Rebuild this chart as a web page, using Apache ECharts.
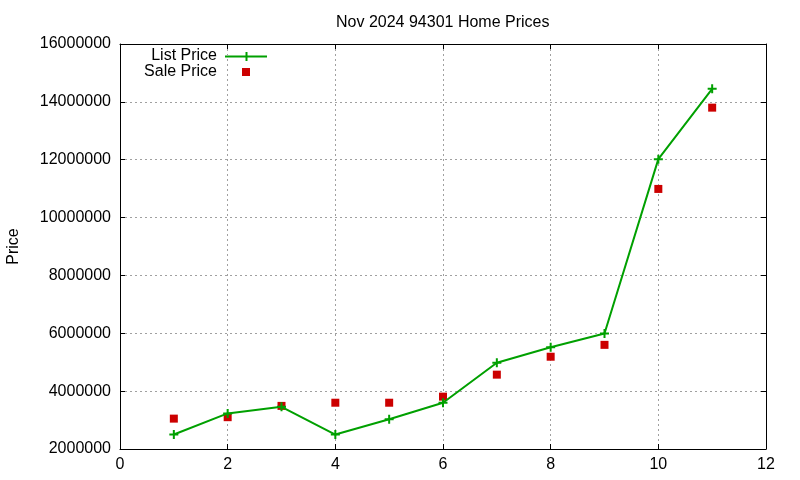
<!DOCTYPE html>
<html><head><meta charset="utf-8">
<script src="https://cdn.jsdelivr.net/npm/echarts@6/dist/echarts.min.js"></script>
<style>html,body{margin:0;padding:0;background:#fff}#c{width:800px;height:480px}</style>
</head><body><div id="c"></div>
<script>
const xValues = [1, 2, 3, 4, 5, 6, 7, 8, 9, 10, 11];
const listPrice = [2500000, 3230000, 3460000, 2500000, 3030000, 3600000, 4980000, 5520000, 5990000, 12020000, 14450000];
const salePrice = [3050000, 3100000, 3490000, 3600000, 3600000, 3810000, 4570000, 5190000, 5600000, 10990000, 13800000];
const titleText = 'Nov 2024 94301 Home Prices';
const seriesNames = ['List Price', 'Sale Price'];
const yLabel = 'Price';

const FONT = 'Liberation Sans, Arial, sans-serif';
const GREEN = '#00a000', RED = '#cc0000';
const plusPath = 'path://M3.5,0H5.5V3.5H9V5.5H5.5V9H3.5V5.5H0V3.5H3.5Z';
const gridStyle = {show: true, lineStyle: {color: '#a0a0a0', type: [2, 3], width: 1}};
const axLine = {show: true, onZero: false, lineStyle: {color: '#000', width: 1}};
const tick = {show: true, inside: true, length: 5, lineStyle: {color: '#000'}};
const txt = {fontFamily: FONT, fontSize: 16, fill: '#000'};

const chart = echarts.init(document.getElementById('c'), null, {renderer: 'canvas'});
chart.setOption({
  animation: false,
  backgroundColor: '#fff',
  title: {text: titleText, left: 331, top: 10, textStyle: {fontFamily: FONT, fontSize: 16, fontWeight: 'normal', color: '#000'}},
  grid: {left: 120, right: 34, top: 44, bottom: 31, containLabel: false, outerBoundsMode: 'none'},
  graphic: [
    {type: 'text', x: 217, y: 56, style: Object.assign({text: seriesNames[0], align: 'right', verticalAlign: 'middle'}, txt)},
    {type: 'line', shape: {x1: 225, y1: 56.5, x2: 267, y2: 56.5}, style: {stroke: GREEN, lineWidth: 2}},
    {type: 'rect', shape: {x: 245.5, y: 52, width: 2, height: 9}, style: {fill: GREEN}},
    {type: 'text', x: 217, y: 72, style: Object.assign({text: seriesNames[1], align: 'right', verticalAlign: 'middle'}, txt)},
    {type: 'rect', shape: {x: 242, y: 68, width: 8, height: 8}, style: {fill: RED}}
  ],
  xAxis: [
    {type: 'value', min: 0, max: 12, interval: 2, position: 'bottom', axisLine: axLine, axisTick: tick,
     axisLabel: {fontFamily: FONT, fontSize: 16, color: '#000', margin: 8}, splitLine: gridStyle},
    {type: 'value', min: 0, max: 12, interval: 2, position: 'top', axisLine: axLine, axisTick: tick,
     axisLabel: {show: false}, splitLine: {show: false}}
  ],
  yAxis: [
    {type: 'value', min: 2000000, max: 16000000, interval: 2000000, position: 'left', axisLine: axLine, axisTick: tick,
     axisLabel: {fontFamily: FONT, fontSize: 16, color: '#000', margin: 9, formatter: v => String(v)}, splitLine: gridStyle,
     name: yLabel, nameLocation: 'middle', nameRotate: 90, nameGap: 98,
     nameTextStyle: {fontFamily: FONT, fontSize: 16, color: '#000'}},
    {type: 'value', min: 2000000, max: 16000000, interval: 2000000, position: 'right', axisLine: axLine, axisTick: tick,
     axisLabel: {show: false}, splitLine: {show: false}}
  ],
  series: [
    {name: seriesNames[0], type: 'line', xAxisIndex: 0, yAxisIndex: 0,
     data: xValues.map((x, i) => [x, listPrice[i]]),
     symbol: plusPath, symbolSize: 9, showSymbol: true,
     itemStyle: {color: GREEN, opacity: 1}, lineStyle: {color: GREEN, width: 2}},
    {name: seriesNames[1], type: 'scatter', xAxisIndex: 0, yAxisIndex: 0,
     data: xValues.map((x, i) => [x, salePrice[i]]),
     symbol: 'rect', symbolSize: 8, itemStyle: {color: RED, opacity: 1}}
  ]
});
</script></body></html>
